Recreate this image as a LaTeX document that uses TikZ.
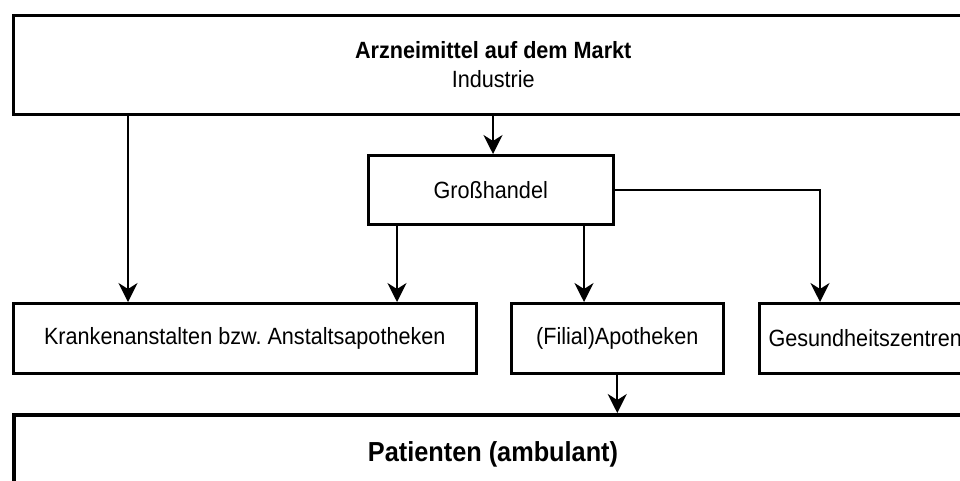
\documentclass[tikz,border=0pt]{standalone}
\usepackage{fontspec}
\setmainfont{Liberation Sans}[FakeStretch=0.92]
\usetikzlibrary{arrows.meta}
\frenchspacing
\begin{document}
\begin{tikzpicture}[x=1pt,y=-1pt,
  box/.style={draw=black, line width=2.5pt, anchor=north west, inner sep=0pt,
    font=\fontsize{23.5}{29}\selectfont, align=center},
  arr/.style={draw=black, line width=1.7pt,
    -{Stealth[length=19pt, width=19pt, inset=6pt]}}]
  \useasboundingbox (0,0) rectangle (960,480);
  \clip (0,0) rectangle (960,480);
  \fill[white] (0,0) rectangle (960,480);

  % supply chain boxes
  \node[box, minimum width=960pt, minimum height=99pt] (top) at (12,14)
    {\textbf{Arzneimittel auf dem Markt}\\Industrie};
  \node[box, minimum width=245pt, minimum height=69pt] (gh) at (367,154) {Großhandel};
  \node[box, minimum width=463pt, minimum height=70pt] (kr) at (12,302)
    {Krankenanstalten bzw.\ Anstaltsapotheken};
  \node[box, minimum width=212pt, minimum height=70pt] (fa) at (510,302) {(Filial)Apotheken};
  \node[box, minimum width=212pt, minimum height=70pt] (gz) at (758,302) {Gesundheitszentren};
  \node[box, line width=4pt, minimum width=958pt, minimum height=79pt,
    font=\fontsize{27.5}{32}\selectfont\bfseries] (pt) at (12,413)
    {Patienten (ambulant)};

  % x positions of the vertical connectors
  \coordinate (c1) at (128,0);
  \coordinate (c2) at (493,0);
  \coordinate (c3) at (397,0);
  \coordinate (c4) at (584,0);
  \coordinate (c5) at (820,0);

  \draw[arr] (top.south -| c1) -- (kr.north -| c1);
  \draw[arr] (top.south -| c2) -- (gh.north -| c2);
  \draw[arr] (gh.south -| c3) -- (kr.north -| c3);
  \draw[arr] (gh.south -| c4) -- (fa.north -| c4);
  \draw[arr] (gh.east) -| (gz.north -| c5);
  \draw[arr] (fa.south) -- (pt.north -| fa.south);
\end{tikzpicture}
\end{document}
